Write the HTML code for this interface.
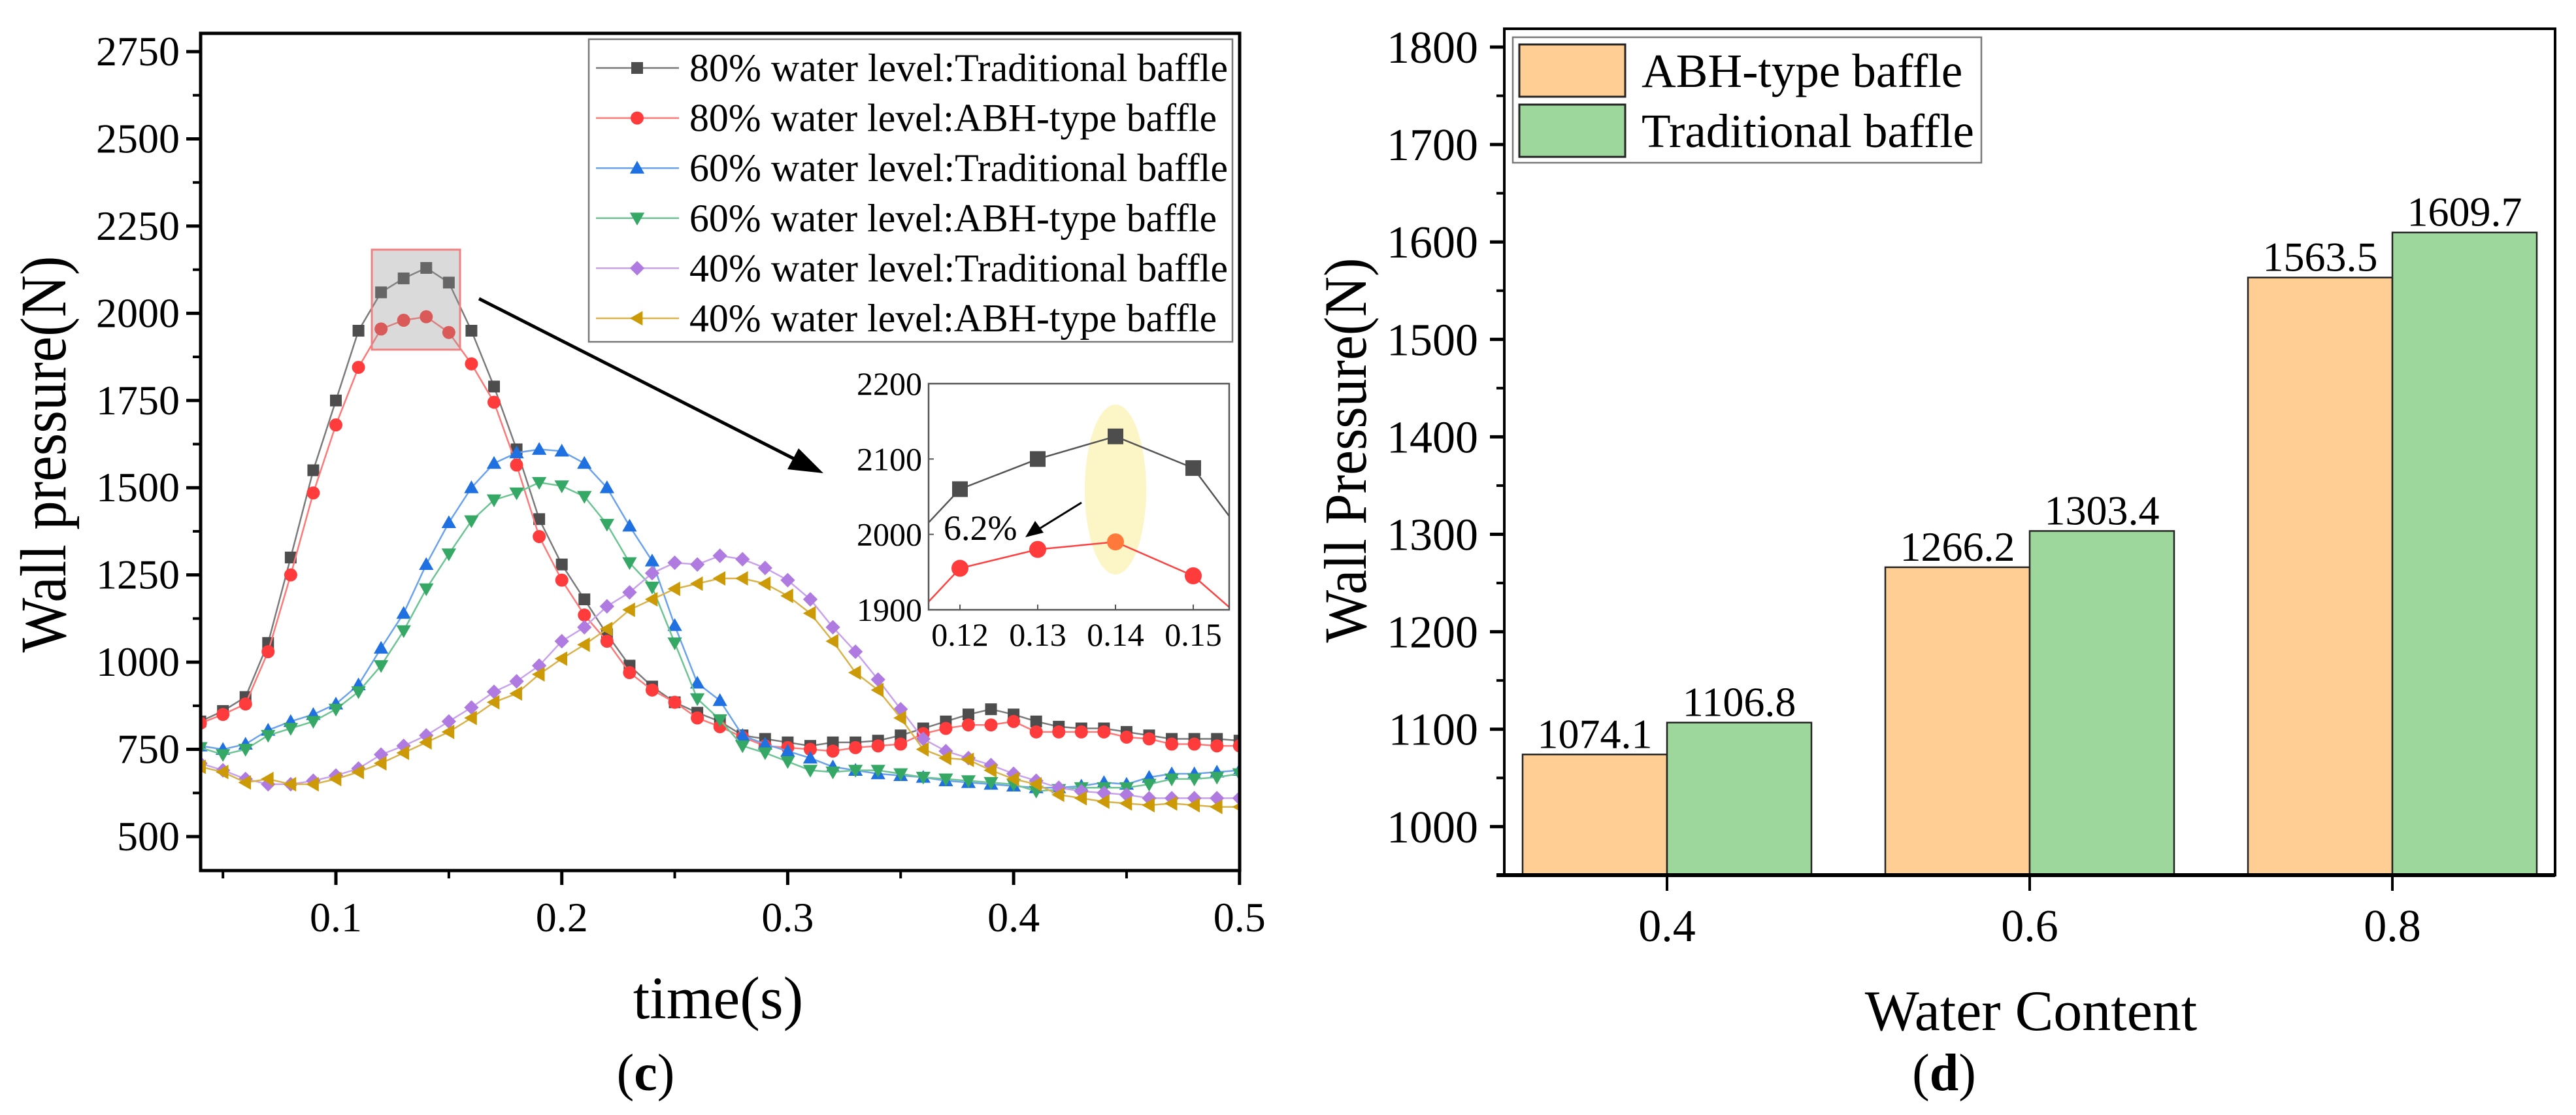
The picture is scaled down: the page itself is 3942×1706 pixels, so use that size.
<!DOCTYPE html>
<html><head><meta charset="utf-8"><style>
html,body{margin:0;padding:0;background:#fff;}
svg{display:block;font-family:"Liberation Serif",serif;}
</style></head><body>
<svg id="fig" width="3942" height="1706" viewBox="0 0 3942 1706" xmlns="http://www.w3.org/2000/svg">
<defs>
<clipPath id="clipL"><rect x="307" y="51" width="1590" height="1281"/></clipPath>
<clipPath id="clipI"><rect x="1421" y="587" width="460" height="346"/></clipPath>
</defs>
<g id="left"></g>
<g id="right"></g>
</svg>
<script>
// ===== Chart (c) data =====
const times = [];
for (let i = 4; i <= 50; i++) times.push(i / 100);
const trad80 = [830,860,900,1055,1300,1550,1750,1950,2060,2100,2130,2088,1950,1790,1610,1410,1280,1180,1080,990,930,885,855,830,790,780,770,760,770,770,775,790,810,830,850,865,850,830,815,810,810,800,790,780,780,780,775];
const abh80 = [825,850,880,1030,1250,1485,1680,1845,1955,1980,1990,1945,1855,1745,1565,1360,1235,1135,1060,970,920,885,840,815,785,760,755,750,745,755,760,765,795,810,820,820,830,800,800,800,800,785,780,765,765,760,760];
const trad60 = [760,750,765,805,830,850,880,935,1040,1140,1280,1400,1500,1570,1600,1610,1605,1570,1500,1390,1290,1105,940,890,790,765,745,725,700,690,680,675,670,660,655,650,645,640,640,645,655,650,670,680,680,685,690];
const abh60 = [755,735,750,790,810,830,865,915,990,1090,1210,1310,1405,1465,1485,1515,1505,1475,1395,1285,1215,1055,895,835,760,740,715,690,685,690,690,680,670,665,660,655,650,630,635,640,640,640,650,665,665,670,680];
const trad40 = [710,690,665,650,650,660,675,695,735,760,790,830,870,915,945,990,1060,1100,1160,1200,1255,1285,1280,1305,1295,1270,1235,1180,1100,1030,950,865,780,745,725,705,680,660,640,630,625,620,610,610,610,610,610];
const abh40 = [700,685,655,665,650,650,665,685,710,740,770,800,840,885,910,965,1010,1050,1095,1150,1180,1210,1225,1240,1240,1225,1190,1140,1060,970,920,840,750,725,720,690,665,650,620,610,600,595,590,595,590,585,585];
const seriesNames = ["80% water level:Traditional baffle","80% water level:ABH-type baffle","60% water level:Traditional baffle","60% water level:ABH-type baffle","40% water level:Traditional baffle","40% water level:ABH-type baffle"];
const yTicksL = [500,750,1000,1250,1500,1750,2000,2250,2500,2750];
const xTicksL = [0.1,0.2,0.3,0.4,0.5];
const xTickLabelsL = ["0.1","0.2","0.3","0.4","0.5"];
// inset data
const insetTimes = [0.11,0.12,0.13,0.14,0.15,0.16];
const insetTrad = [1950,2060,2100,2130,2088,1950];
const insetAbh = [1845,1955,1980,1990,1945,1855];
const insetYTicks = [1900,2000,2100,2200];
const insetXTicks = [0.12,0.13,0.14,0.15];
// ===== Chart (d) data =====
const categories = [0.4,0.6,0.8];
const catLabels = ["0.4","0.6","0.8"];
const abhBars = [1074.1,1266.2,1563.5];
const tradBars = [1106.8,1303.4,1609.7];
const yTicksR = [1000,1100,1200,1300,1400,1500,1600,1700,1800];

const NS = "http://www.w3.org/2000/svg";
function mk(parent, tag, attrs, text) {
  const e = document.createElementNS(NS, tag);
  for (const k in attrs) e.setAttribute(k, attrs[k]);
  if (text !== undefined) e.textContent = text;
  parent.appendChild(e);
  return e;
}

const L = {x0:307, x1:1897, y0:51, y1:1332};
function xL(t){ return 514 + (t - 0.1) * 3457; }
function yL(v){ return 79 + (2750 - v) * (1201/2250); }

const left = document.getElementById('left');
const colors = ["#4d4d4d","#ff3b3b","#1f70e0","#35a866","#b07be0","#cc9a06"];
const lineColors = ["#7a7a7a","#ff7777","#6aa2ee","#6cc493","#c9a2ee","#d9b24a"];
const shapes = ["square","circle","up","down","diamond","left"];
const allSeries = [trad80, abh80, trad60, abh60, trad40, abh40];

function marker(g, shape, x, y, s, fill) {
  let e;
  if (shape === "square") e = mk(g,'rect',{x:x-s/2,y:y-s/2,width:s,height:s,fill:fill});
  else if (shape === "circle") e = mk(g,'circle',{cx:x,cy:y,r:s/2+1,fill:fill});
  else {
    let p;
    const h = s*0.62;
    if (shape === "up") p = [[x,y-h],[x+h,y+h*0.75],[x-h,y+h*0.75]];
    else if (shape === "down") p = [[x,y+h],[x+h,y-h*0.75],[x-h,y-h*0.75]];
    else if (shape === "left") p = [[x-h,y],[x+h*0.75,y-h],[x+h*0.75,y+h]];
    else p = [[x,y-h],[x+h,y],[x,y+h],[x-h,y]];
    e = mk(g,'polygon',{points:p.map(q=>q.join(',')).join(' '),fill:fill});
  }
  return e;
}

const plotG = mk(left,'g',{'clip-path':'url(#clipL)'});


allSeries.forEach((vals, si) => {
  const g = mk(plotG,'g',{});
  
  
  const pts = vals.map((v,i)=>[xL(times[i]), yL(v)]);
  mk(g,'polyline',{points:pts.map(p=>p.join(',')).join(' '),fill:'none',stroke:lineColors[si],'stroke-width':2.5});
  pts.forEach(p => marker(g, shapes[si], p[0], p[1], 18, colors[si]));
});

const frame = mk(left,'rect',{x:L.x0,y:L.y0,width:L.x1-L.x0,height:L.y1-L.y0,fill:'none',stroke:'#000','stroke-width':5});


yTicksL.forEach(v => {
  const y = yL(v);
  mk(left,'line',{x1:L.x0-22,y1:y,x2:L.x0,y2:y,stroke:'#000','stroke-width':5});
  const t = mk(left,'text',{x:L.x0-32,y:y+21,'font-size':64,'text-anchor':'end'}, String(v));
  
  
  if (v < 2750) mk(left,'line',{x1:L.x0-12,y1:yL(v+125),x2:L.x0,y2:yL(v+125),stroke:'#000','stroke-width':4});
});
xTicksL.forEach((v,i) => {
  const x = xL(v);
  mk(left,'line',{x1:x,y1:L.y1,x2:x,y2:L.y1+22,stroke:'#000','stroke-width':5});
  mk(left,'line',{x1:xL(v-0.05),y1:L.y1,x2:xL(v-0.05),y2:L.y1+12,stroke:'#000','stroke-width':4});
  const t = mk(left,'text',{x:x,y:1425,'font-size':64,'text-anchor':'middle'}, xTickLabelsL[i]);
  
  
});
let tt = mk(left,'text',{x:1099,y:1558,'font-size':92,'text-anchor':'middle'},'time(s)');


tt = mk(left,'text',{x:0,y:0,'font-size':100,'text-anchor':'middle',textLength:607,lengthAdjust:'spacingAndGlyphs',transform:'translate(100,695) rotate(-90)'},'Wall pressure(N)');


tt = mk(left,'text',{x:988,y:1668,'font-size':80,'text-anchor':'middle'},'');


mk(tt,'tspan',{},'(');
mk(tt,'tspan',{'font-weight':'bold'},'c');
mk(tt,'tspan',{},')');

const lg = mk(left,'g',{});


mk(lg,'rect',{x:901,y:60,width:985,height:463,fill:'#fff',stroke:'#777','stroke-width':2.5});
seriesNames.forEach((n,i) => {
  const y = 104 + i*76.6;
  const e = mk(lg,'g',{});
  
  
  mk(e,'line',{x1:912,y1:y,x2:1039,y2:y,stroke:lineColors[i],'stroke-width':2.5});
  marker(e, shapes[i], 975, y, 18, colors[i]);
  const w = (i%2===0) ? 824 : 807;
  mk(e,'text',{x:1055,y:y+20,'font-size':60,textLength:w,lengthAdjust:'spacingAndGlyphs'}, n);
});

const zb = mk(left,'rect',{x:569,y:382,width:135,height:153,fill:'rgba(150,150,150,0.35)',stroke:'#f08080','stroke-width':3});


const ar = mk(left,'g',{});


mk(ar,'line',{x1:733,y1:457,x2:1225,y2:707,stroke:'#000','stroke-width':5});
mk(ar,'polygon',{points:'1260,724 1205,718 1222,686',fill:'#000'});

const I = {x0:1421,x1:1881,y0:587,y1:933};
function xI(t){ return 1469 + (t - 0.12) * 11900; }
function yI(v){ return 587 + (2200 - v) * 1.153; }
const ig = mk(left,'g',{});


mk(ig,'rect',{x:I.x0,y:I.y0,width:I.x1-I.x0,height:I.y1-I.y0,fill:'#fff'});
const hl = mk(ig,'ellipse',{cx:xI(0.14),cy:749,rx:47,ry:130,fill:'rgba(250,238,160,0.6)'});


const ic = mk(ig,'g',{'clip-path':'url(#clipI)'});
[[insetTrad,'#4d4d4d','#555','square'],[insetAbh,'#ff3b3b','#ff4040','circle']].forEach(([vals,mc,lc,sh])=>{
  const pts = vals.map((v,i)=>[xI(insetTimes[i]), yI(v)]);
  mk(ic,'polyline',{points:pts.map(p=>p.join(',')).join(' '),fill:'none',stroke:lc,'stroke-width':2.5});
  pts.forEach((p,i) => {
    marker(ic, sh, p[0], p[1], 24, (sh==='circle' && i===3) ? '#ff7a3a' : mc);
  });
});
mk(ig,'rect',{x:I.x0,y:I.y0,width:I.x1-I.x0,height:I.y1-I.y0,fill:'none',stroke:'#555','stroke-width':2.5});
insetYTicks.forEach(v=>{
  mk(ig,'line',{x1:I.x0,y1:yI(v),x2:I.x0+8,y2:yI(v),stroke:'#555','stroke-width':2});
  mk(ig,'text',{x:1411,y:yI(v)+17,'font-size':50,'text-anchor':'end'},String(v));
});
insetXTicks.forEach(v=>{
  mk(ig,'line',{x1:xI(v),y1:I.y1,x2:xI(v),y2:I.y1-8,stroke:'#555','stroke-width':2});
  mk(ig,'text',{x:xI(v),y:988,'font-size':50,'text-anchor':'middle'},v.toFixed(2));
});
const pct = mk(ig,'text',{x:1444,y:826,'font-size':54},'6.2%');


mk(ig,'line',{x1:1655,y1:769,x2:1592,y2:808,stroke:'#000','stroke-width':3});
mk(ig,'polygon',{points:'1569,822 1584,797 1597,815',fill:'#000'});

// ===== Right chart =====
const right = document.getElementById('right');
const R = {x0:2302, x1:3910, y0:44, y1:1339};
function xR(c){ return 2551 + (c - 0.4) * 2775; }
function yR(v){ return 72 + (1800 - v) * 1.491; }
const barW = 221;
categories.forEach((c,i)=>{
  const x = xR(c);
  const b1 = mk(right,'rect',{x:x-barW,y:yR(abhBars[i]),width:barW,height:R.y1-yR(abhBars[i]),fill:'#FECE94',stroke:'#222','stroke-width':2.5});
  
  
  const b2 = mk(right,'rect',{x:x,y:yR(tradBars[i]),width:barW,height:R.y1-yR(tradBars[i]),fill:'#9DD79B',stroke:'#222','stroke-width':2.5});
  
  
  const l1 = mk(right,'text',{x:x-barW/2,y:yR(abhBars[i])-10,'font-size':64,'text-anchor':'middle'},abhBars[i].toFixed(1));
  
  
  const l2 = mk(right,'text',{x:x+barW/2,y:yR(tradBars[i])-10,'font-size':64,'text-anchor':'middle'},tradBars[i].toFixed(1));
  
  
  mk(right,'line',{x1:x,y1:R.y1,x2:x,y2:R.y1+24,stroke:'#000','stroke-width':4});
  const tl = mk(right,'text',{x:x,y:1440,'font-size':70,'text-anchor':'middle'},catLabels[i]);
  
  
});
const rf = mk(right,'rect',{x:R.x0,y:R.y0,width:R.x1-R.x0,height:R.y1-R.y0,fill:'none',stroke:'#000','stroke-width':4});


mk(right,'line',{x1:R.x0-12,y1:R.y1,x2:R.x1,y2:R.y1,stroke:'#000','stroke-width':6});
yTicksR.forEach(v=>{
  const y = yR(v);
  mk(right,'line',{x1:R.x0-22,y1:y,x2:R.x0,y2:y,stroke:'#000','stroke-width':5});
  mk(right,'line',{x1:R.x0-12,y1:yR(v-50),x2:R.x0,y2:yR(v-50),stroke:'#000','stroke-width':4});
  const t = mk(right,'text',{x:2262,y:y+24,'font-size':70,'text-anchor':'end'},String(v));
  
  
});
tt = mk(right,'text',{x:3108,y:1576,'font-size':88,'text-anchor':'middle'},'Water Content');


tt = mk(right,'text',{x:0,y:0,'font-size':92,'text-anchor':'middle',textLength:589,lengthAdjust:'spacingAndGlyphs',transform:'translate(2090,689) rotate(-90)'},'Wall Pressure(N)');


tt = mk(right,'text',{x:2975,y:1668,'font-size':80,'text-anchor':'middle'},'');


mk(tt,'tspan',{},'(');
mk(tt,'tspan',{'font-weight':'bold'},'d');
mk(tt,'tspan',{},')');
const rl = mk(right,'g',{});


mk(rl,'rect',{x:2315,y:57,width:717,height:192,fill:'#fff',stroke:'#777','stroke-width':2.5});
[['ABH-type baffle','#FECE94',68],['Traditional baffle','#9DD79B',160]].forEach(([n,c,y])=>{
  const e = mk(rl,'g',{});
  
  
  mk(e,'rect',{x:2325,y:y,width:162,height:80,fill:c,stroke:'#222','stroke-width':3});
  mk(e,'text',{x:2512,y:y+65,'font-size':73},n);
});
</script>
</body></html>
